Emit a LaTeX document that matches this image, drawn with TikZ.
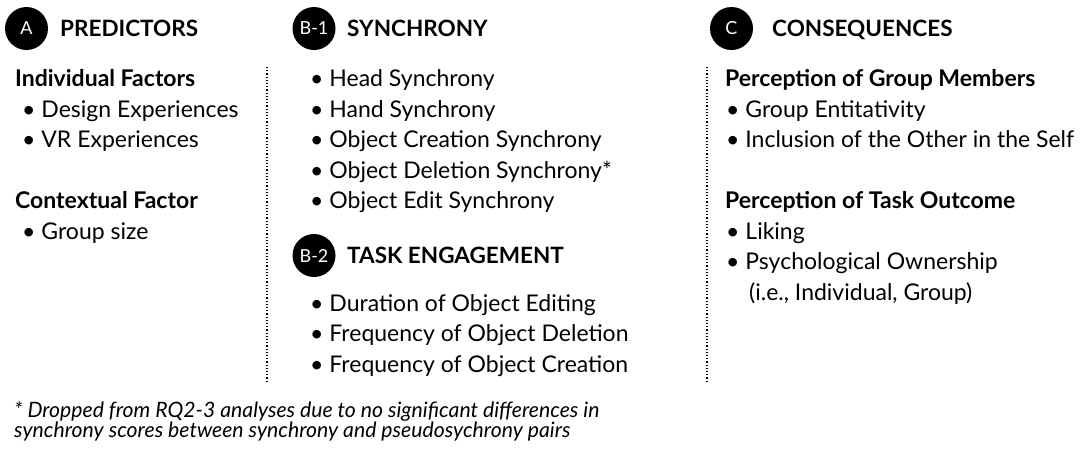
\documentclass[tikz,border=0pt]{standalone}
\usepackage{fontspec}
\setmainfont{Lato}

\begin{document}
\begin{tikzpicture}[x=1pt,y=-1pt,
    badge/.style={circle,fill=black,text=white,minimum size=43pt,inner sep=0pt,
      font=\fontsize{18}{18}\selectfont},
    title/.style={anchor=base west,inner sep=0pt,font=\fontsize{22.5}{22.5}\selectfont\bfseries},
    group/.style={anchor=base west,inner sep=0pt,font=\fontsize{23}{23}\selectfont\bfseries},
    entry/.style={anchor=base west,inner sep=0pt,font=\fontsize{23}{23}\selectfont},
    note/.style={anchor=base west,inner sep=0pt,font=\fontsize{21.2}{21.2}\selectfont\itshape}]
    \useasboundingbox (0,0) rectangle (1084,456);

    \node[badge] (bA) at (26.5,28.5) {A};
    \node[title] (tA) at (60,36) {PREDICTORS};
    \node[group] (indiv) at (15,86) {Individual Factors};
    \node[entry] (design) at (22,117) {\textbullet\ Design Experiences};
    \node[entry] (vr) at (22,147) {\textbullet\ VR Experiences};
    \node[group] (context) at (15,208) {Contextual Factor};
    \node[entry] (size) at (22,239) {\textbullet\ Group size};

    \coordinate (s1a) at (267,67);
    \coordinate (s1b) at (267,382);
    \draw[dotted,line width=1.2pt] (s1a) -- (s1b);

    \node[badge] (bB1) at (314,28.5) {B-1};
    \node[title] (tB1) at (347,36) {SYNCHRONY};
    \node[entry] (head) at (310,86) {\textbullet\ Head Synchrony};
    \node[entry] (hand) at (310,117) {\textbullet\ Hand Synchrony};
    \node[entry] (create) at (310,147.5) {\textbullet\ Object Creation Synchrony};
    \node[entry] (delete) at (310,178) {\textbullet\ Object Deletion Synchrony*};
    \node[entry] (edit) at (310,208.5) {\textbullet\ Object Edit Synchrony};

    \node[badge] (bB2) at (314,255.5) {B-2};
    \node[title] (tB2) at (347,263) {TASK ENGAGEMENT};
    \node[entry] (dur) at (310,311) {\textbullet\ Duration of Object Editing};
    \node[entry] (fdel) at (310,341.5) {\textbullet\ Frequency of Object Deletion};
    \node[entry] (fcre) at (310,372) {\textbullet\ Frequency of Object Creation};

    \coordinate (s2a) at (707,67);
    \coordinate (s2b) at (707,382);
    \draw[dotted,line width=1.2pt] (s2a) -- (s2b);

    \node[badge] (bC) at (731.5,28.5) {C};
    \node[title] (tC) at (772,36) {CONSEQUENCES};
    \node[group] (members) at (725,86) {Perception of Group Members};
    \node[entry] (entit) at (726,117) {\textbullet\ Group Entitativity};
    \node[entry] (ios) at (726,147.5) {\textbullet\ Inclusion of the Other in the Self};
    \node[group] (outcome) at (725,208) {Perception of Task Outcome};
    \node[entry] (liking) at (726,239) {\textbullet\ Liking};
    \node[entry] (own) at (726,269.5) {\textbullet\ Psychological Ownership};
    \node[entry] (owntype) at (749,300) {(i.e., Individual, Group)};

    \node[note] (fn1) at (14,417) {* Dropped from RQ2-3 analyses due to no significant differences in};
    \node[note] (fn2) at (14,437) {synchrony scores between synchrony and pseudosychrony pairs};
\end{tikzpicture}
\end{document}
